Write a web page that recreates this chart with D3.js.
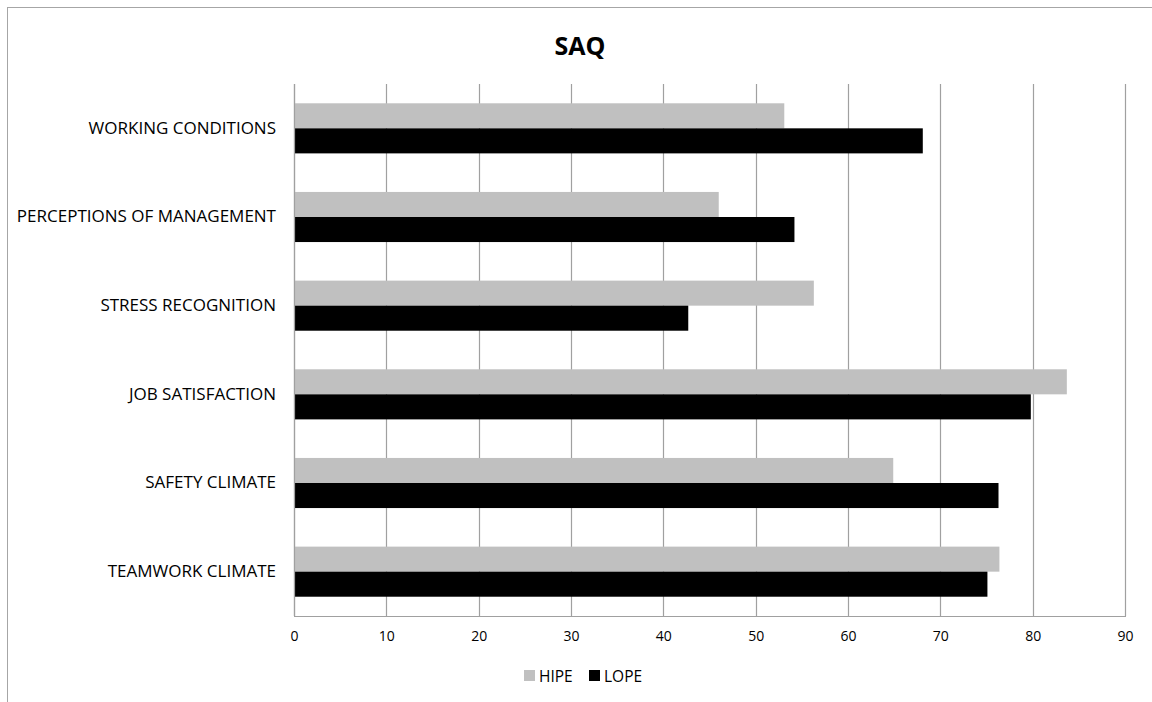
<!DOCTYPE html>
<html><head><meta charset="utf-8">
<script src="https://cdn.jsdelivr.net/npm/d3@7"></script>
<style>body{margin:0;background:#fff}svg{display:block}</style>
</head><body>
<svg id="c" width="1152" height="702"></svg>
<script>
const categories = ["WORKING CONDITIONS","PERCEPTIONS OF MANAGEMENT","STRESS RECOGNITION","JOB SATISFACTION","SAFETY CLIMATE","TEAMWORK CLIMATE"];
const hipe = [53.1, 46.0, 56.3, 83.7, 64.9, 76.4];
const lope = [68.1, 54.2, 42.7, 79.8, 76.3, 75.1];
const seriesNames = ["HIPE","LOPE"];
const seriesColors = ["#c0c0c0","#000000"];
const xTicks = [0,10,20,30,40,50,60,70,80,90];

const font = "'Open Sans', sans-serif";
const svg = d3.select("#c");
svg.append("rect").attr("x",7.5).attr("y",7.5).attr("width",1150).attr("height",720)
  .attr("fill","#fff").attr("stroke","#a6a6a6").attr("stroke-width",1);

const m = {l:294, r:1125, t:84, b:616};
const x = d3.scaleLinear().domain([0,90]).range([m.l, m.r]);
const y = d3.scaleBand().domain(categories).range([m.t, m.b]).paddingInner(0.435).paddingOuter(0.2175);
const ySub = d3.scaleBand().domain(seriesNames).range([0, y.bandwidth()]);

svg.append("g").selectAll("line").data(xTicks).join("line")
  .attr("x1",d=>Math.round(x(d))+0.5).attr("x2",d=>Math.round(x(d))+0.5)
  .attr("y1",m.t).attr("y2",m.b)
  .attr("stroke","#a0a0a0").attr("stroke-width",1.2);

const data = [hipe, lope];
data.forEach((vals,si)=>{
  svg.append("g").selectAll("rect").data(categories).join("rect")
    .attr("x", x(0))
    .attr("y", (c)=> y(c)+ySub(seriesNames[si]))
    .attr("width", (c,i)=> x(vals[i])-x(0))
    .attr("height", ySub.bandwidth())
    .attr("fill", seriesColors[si]);
});

svg.append("line").attr("x1",m.l).attr("x2",m.r+1).attr("y1",m.b+0.5).attr("y2",m.b+0.5).attr("stroke","#a0a0a0").attr("stroke-width",1.2);
svg.append("line").attr("x1",m.l+0.5).attr("x2",m.l+0.5).attr("y1",m.t).attr("y2",m.b).attr("stroke","#a0a0a0").attr("stroke-width",1.2);

const xAxis = svg.append("g").attr("transform",`translate(0,${m.b})`)
  .call(d3.axisBottom(x).tickValues(xTicks).tickSize(0).tickPadding(15));
xAxis.select(".domain").remove();
xAxis.selectAll("text").attr("font-family",font).attr("font-size",14).attr("fill","#000");

const yAxis = svg.append("g").attr("transform",`translate(${m.l},0)`)
  .call(d3.axisLeft(y).tickSize(0).tickPadding(18));
yAxis.select(".domain").remove();
yAxis.selectAll("text").attr("font-family",font).attr("font-size",17).attr("fill","#000");

svg.append("text").attr("x",580).attr("y",55).attr("text-anchor","middle")
  .attr("font-family",font).attr("font-weight","bold").attr("font-size",25).text("SAQ");

const lg = svg.append("g");
const legendX = [524, 589];
seriesNames.forEach((n,i)=>{
  lg.append("rect").attr("x",legendX[i]).attr("y",670).attr("width",11).attr("height",11).attr("fill",seriesColors[i]);
  lg.append("text").attr("x",legendX[i]+15).attr("y",682).attr("font-family",font).attr("font-size",15.5).text(n);
});
</script>
</body></html>
